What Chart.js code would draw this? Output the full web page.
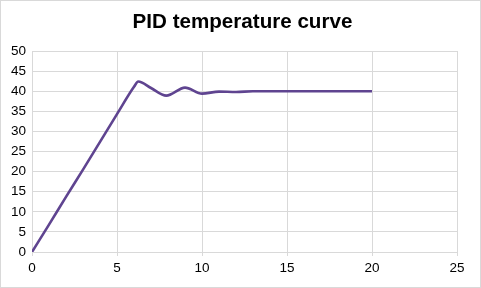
<!DOCTYPE html>
<html>
<head>
<meta charset="utf-8">
<script src="https://cdn.jsdelivr.net/npm/chart.js@4/dist/chart.umd.min.js"></script>
<style>
  html, body { margin: 0; padding: 0; background: #fff; }
  #wrap { width: 481px; height: 288px; box-sizing: border-box; border: 1px solid #d9d9d9; position: relative; }
  #title { position: absolute; left: 0; right: 0; top: 8px; padding-left: 4px; text-align: center;
           font: bold 20.6px 'Liberation Sans', Arial, sans-serif; line-height: 24px; color: #000; }
  canvas { display: block; }
</style>
</head>
<body>
<div id="wrap">
  <div id="title">PID temperature curve</div>
  <canvas id="pid" width="479" height="286"></canvas>
</div>
<script>
// time values (x) and temperature readings (y)
const times = [0, 1, 2, 3, 4, 5, 6, 6.25, 7, 7.9, 9, 10, 11, 12, 13, 14, 15, 16, 17, 18, 19, 20];
const temps = [0, 6.8, 13.7, 20.5, 27.4, 34.3, 41.1, 42.4, 40.8, 38.9, 40.9, 39.4, 39.9, 39.8, 40, 40, 40, 40, 40, 40, 40, 40];
const xTicks = [0, 5, 10, 15, 20, 25];
const yTicks = [0, 5, 10, 15, 20, 25, 30, 35, 40, 45, 50];

const ctx = document.getElementById('pid').getContext('2d');

let points = [];
for (let i = 0; i < times.length; i++) {
   points.push({ x: times[i], y: temps[i] });
}

const gridCol = '#d9d9d9';
const tickFont = { family: 'Liberation Sans, Arial, sans-serif', size: 13.5 };

new Chart(ctx, {
   type: 'scatter',
   data: {
      datasets: [{
         data: points,
         showLine: true,
         borderColor: '#5f4490',
         borderWidth: 2.6,
         pointRadius: 0,
         cubicInterpolationMode: 'monotone',
         fill: false
      }]
   },
   options: {
      responsive: false,
      animation: false,
      layout: { padding: { left: 0, right: 23, top: 50, bottom: 0 } },
      plugins: {
         legend: { display: false },
         tooltip: { enabled: false },
         title: { display: false }
      },
      scales: {
         x: {
            type: 'linear',
            min: 0, max: 25,
            afterBuildTicks: s => { s.ticks = xTicks.map(v => ({ value: v })); },
            afterFit: s => { s.height = 35; },
            ticks: { color: '#000', font: tickFont, padding: 4 },
            grid: { color: gridCol, tickLength: 4 },
            border: { color: gridCol }
         },
         y: {
            min: 0, max: 50,
            afterBuildTicks: s => { s.ticks = yTicks.map(v => ({ value: v })); },
            afterFit: s => { s.width = 31; },
            ticks: { color: '#000', font: tickFont, padding: 6 },
            grid: { color: gridCol, drawTicks: false },
            border: { color: gridCol }
         }
      }
   }
});
</script>
</body>
</html>
